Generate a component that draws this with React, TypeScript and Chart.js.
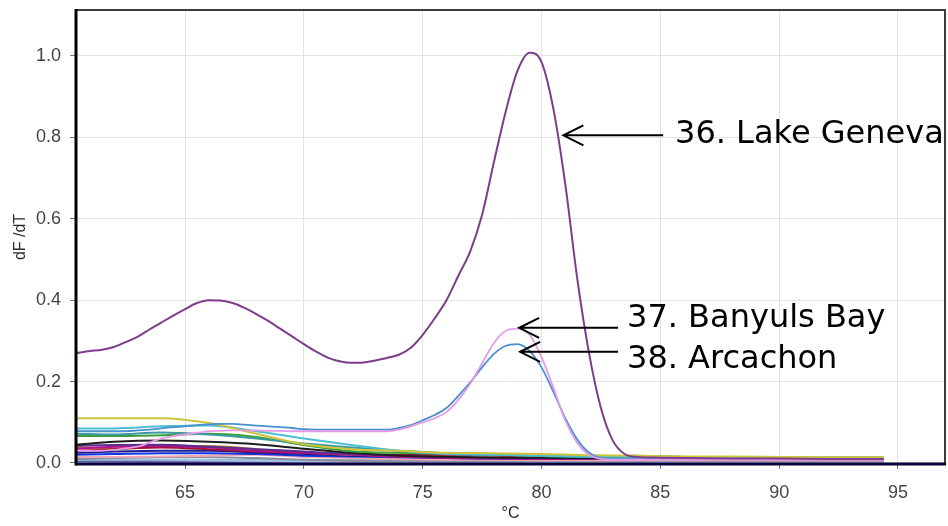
import React, { useEffect, useRef } from "react";
import { Chart, registerables } from "chart.js";

Chart.register(...registerables);

// ---------- data ----------
const temps = [60.4, 61, 61.5, 62, 62.5, 63, 63.5, 64, 64.5, 65, 65.5, 66, 66.5, 67, 67.5, 68, 68.5, 69, 69.5, 70, 70.5, 71, 71.5, 72, 72.5, 73, 73.5, 74, 74.5, 75, 75.5, 76, 76.5, 77, 77.5, 78, 78.5, 79, 79.5, 80, 80.5, 81, 81.5, 82, 82.5, 83, 83.5, 84, 85, 86, 88, 90, 92, 94.4];

const lakeGeneva = [0.270, 0.275, 0.278, 0.285, 0.297, 0.310, 0.328, 0.345, 0.362, 0.378, 0.393, 0.400, 0.399, 0.393, 0.381, 0.366, 0.349, 0.330, 0.311, 0.292, 0.274, 0.259, 0.250, 0.246, 0.247, 0.252, 0.258, 0.266, 0.283, 0.315, 0.355, 0.400, 0.460, 0.520, 0.610, 0.740, 0.865, 0.965, 1.008, 0.985, 0.870, 0.685, 0.455, 0.270, 0.135, 0.055, 0.022, 0.015, 0.013, 0.012, 0.011, 0.011, 0.010, 0.010];

const banyulsBay = [0.030, 0.030, 0.030, 0.032, 0.036, 0.040, 0.050, 0.060, 0.066, 0.070, 0.074, 0.078, 0.079, 0.080, 0.080, 0.080, 0.079, 0.079, 0.078, 0.078, 0.078, 0.078, 0.078, 0.078, 0.078, 0.078, 0.078, 0.082, 0.090, 0.100, 0.110, 0.125, 0.155, 0.195, 0.245, 0.295, 0.325, 0.330, 0.315, 0.260, 0.185, 0.105, 0.050, 0.020, 0.010, 0.008, 0.008, 0.008, 0.008, 0.008, 0.008, 0.008, 0.008, 0.008];

const arcachon = [0.078, 0.078, 0.078, 0.078, 0.078, 0.080, 0.082, 0.085, 0.088, 0.090, 0.093, 0.095, 0.096, 0.096, 0.094, 0.092, 0.090, 0.088, 0.086, 0.083, 0.082, 0.082, 0.082, 0.082, 0.082, 0.082, 0.082, 0.086, 0.093, 0.105, 0.118, 0.135, 0.165, 0.198, 0.235, 0.268, 0.288, 0.292, 0.275, 0.235, 0.175, 0.110, 0.058, 0.025, 0.012, 0.010, 0.010, 0.010, 0.010, 0.010, 0.010, 0.010, 0.010, 0.010];

const bgTemps = [60.4, 62, 64, 66, 68, 70, 72, 74, 76, 78, 80, 82, 84, 86, 88, 90, 92, 94.4];
const bgYellow = [0.110, 0.110, 0.110, 0.098, 0.072, 0.046, 0.034, 0.030, 0.025, 0.024, 0.022, 0.019, 0.018, 0.016, 0.016, 0.015, 0.014, 0.014];
const bgCyan = [0.085, 0.085, 0.090, 0.092, 0.078, 0.060, 0.044, 0.030, 0.022, 0.020, 0.018, 0.016, 0.016, 0.015, 0.014, 0.014, 0.014, 0.014];
const bgTeal = [0.072, 0.070, 0.075, 0.070, 0.060, 0.048, 0.038, 0.030, 0.024, 0.020, 0.017, 0.015, 0.015, 0.014, 0.013, 0.013, 0.013, 0.013];
const bgGreen = [0.066, 0.066, 0.068, 0.072, 0.064, 0.044, 0.029, 0.025, 0.023, 0.021, 0.017, 0.016, 0.018, 0.015, 0.014, 0.013, 0.013, 0.013];
const bgBlack = [0.045, 0.052, 0.055, 0.052, 0.046, 0.035, 0.025, 0.018, 0.015, 0.013, 0.013, 0.012, 0.012, 0.011, 0.011, 0.011, 0.011, 0.011];
const bgPurple = [0.042, 0.044, 0.045, 0.040, 0.034, 0.028, 0.022, 0.018, 0.015, 0.013, 0.012, 0.011, 0.010, 0.010, 0.010, 0.010, 0.010, 0.010];
const bgMagenta = [0.035, 0.040, 0.042, 0.038, 0.030, 0.025, 0.020, 0.015, 0.012, 0.011, 0.010, 0.010, 0.010, 0.009, 0.009, 0.009, 0.009, 0.009];
const bgDarkRed = [0.030, 0.034, 0.038, 0.034, 0.028, 0.025, 0.022, 0.020, 0.020, 0.019, 0.016, 0.014, 0.013, 0.012, 0.012, 0.012, 0.012, 0.012];
const bgOrange = [0.038, 0.036, 0.040, 0.042, 0.034, 0.026, 0.020, 0.018, 0.020, 0.018, 0.015, 0.013, 0.012, 0.011, 0.011, 0.011, 0.011, 0.011];
const bgNavy = [0.025, 0.028, 0.030, 0.030, 0.026, 0.022, 0.018, 0.016, 0.014, 0.012, 0.012, 0.011, 0.011, 0.010, 0.010, 0.010, 0.010, 0.010];
const bgBlue = [0.020, 0.022, 0.024, 0.024, 0.022, 0.018, 0.016, 0.014, 0.012, 0.011, 0.010, 0.010, 0.012, 0.012, 0.012, 0.011, 0.011, 0.011];
const bgLightPink = [0.015, 0.015, 0.016, 0.018, 0.020, 0.015, 0.012, 0.010, 0.008, 0.008, 0.007, 0.007, 0.007, 0.007, 0.007, 0.007, 0.007, 0.007];
const bgGray = [0.010, 0.012, 0.014, 0.014, 0.012, 0.008, 0.005, 0.004, 0.004, 0.004, 0.004, 0.004, 0.004, 0.004, 0.004, 0.004, 0.004, 0.004];
const bgLightBlue = [0.008, 0.008, 0.008, 0.007, 0.006, 0.005, 0.004, 0.004, 0.004, 0.004, 0.003, 0.003, 0.003, 0.003, 0.003, 0.003, 0.003, 0.003];
const bgDarkTeal = [0.006, 0.006, 0.006, 0.006, 0.006, 0.006, 0.006, 0.006, 0.006, 0.006, 0.006, 0.006, 0.008, 0.008, 0.008, 0.008, 0.008, 0.008];
const bgViolet = [0.004, 0.003, 0.002, 0.001, 0.000, -0.001, -0.001, -0.001, -0.001, -0.001, -0.002, -0.002, 0.000, -0.002, -0.002, -0.002, -0.002, -0.002];

const xTickValues = [65, 70, 75, 80, 85, 90, 95];
const yTickValues = [0, 0.2, 0.4, 0.6, 0.8, 1.0];

const annLabels = ["36. Lake Geneva", "37. Banyuls Bay", "38. Arcachon"];
// arrow tip / tail and label anchor, in data units (°C, dF/dT)
const annTipX = [80.92, 79.06, 79.1];
const annTipY = [0.805, 0.332, 0.273];
const annTailX = [85.12, 83.22, 83.22];
const annTextX = [85.62, 83.6, 83.6];
const annTextY = [0.786, 0.334, 0.233];

// ---------- helpers ----------
const pts = (xs: number[], ys: number[]) => xs.map((x, i) => ({ x, y: ys[i] }));

const bgSeries: { data: number[]; color: string }[] = [
  { data: bgYellow, color: "#cdc43c" },
  { data: bgCyan, color: "#4cbfd3" },
  { data: bgTeal, color: "#3a9aa0" },
  { data: bgGreen, color: "#3a9e3a" },
  { data: bgBlack, color: "#1e1e1e" },
  { data: bgPurple, color: "#5b2d8e" },
  { data: bgMagenta, color: "#b4108c" },
  { data: bgDarkRed, color: "#a0102e" },
  { data: bgOrange, color: "#c8783c" },
  { data: bgNavy, color: "#1c1c8c" },
  { data: bgBlue, color: "#1034e0" },
  { data: bgLightPink, color: "#f0a8b4" },
  { data: bgGray, color: "#8c8ca0" },
  { data: bgLightBlue, color: "#9cc4e4" },
  { data: bgDarkTeal, color: "#2e6a6a" },
  { data: bgViolet, color: "#9050e0" },
];

const framePlugin = {
  id: "frame",
  afterDatasetsDraw(chart: any) {
    const { ctx, chartArea: a } = chart;
    ctx.save();
    ctx.lineCap = "butt";
    ctx.strokeStyle = "#3c3c3c";
    ctx.lineWidth = 2;
    ctx.beginPath();
    ctx.moveTo(a.left, a.top);
    ctx.lineTo(a.right, a.top);
    ctx.lineTo(a.right, a.bottom);
    ctx.stroke();
    ctx.strokeStyle = "#06063a";
    ctx.lineWidth = 3;
    ctx.beginPath();
    ctx.moveTo(a.left, a.bottom);
    ctx.lineTo(a.right + 1, a.bottom);
    ctx.stroke();
    ctx.strokeStyle = "#000000";
    ctx.lineWidth = 3;
    ctx.beginPath();
    ctx.moveTo(a.left, a.top - 1);
    ctx.lineTo(a.left, a.bottom + 1.5);
    ctx.stroke();
    ctx.restore();
  },
};

const annotationPlugin = {
  id: "arrows",
  afterDraw(chart: any) {
    const { ctx } = chart;
    const xs = chart.scales.x;
    const ys = chart.scales.y;
    ctx.save();
    ctx.strokeStyle = "#000";
    ctx.fillStyle = "#000";
    ctx.lineWidth = 2;
    ctx.font = '32px "DejaVu Sans", Verdana, sans-serif';
    ctx.textBaseline = "alphabetic";
    ctx.textAlign = "left";
    annLabels.forEach((label, i) => {
      const tx = xs.getPixelForValue(annTipX[i]);
      const ty = ys.getPixelForValue(annTipY[i]);
      const ex = xs.getPixelForValue(annTailX[i]);
      ctx.beginPath();
      ctx.moveTo(ex, ty);
      ctx.lineTo(tx, ty);
      ctx.moveTo(tx + 20, ty - 10);
      ctx.lineTo(tx, ty);
      ctx.lineTo(tx + 20, ty + 10);
      ctx.stroke();
      ctx.fillText(label, xs.getPixelForValue(annTextX[i]), ys.getPixelForValue(annTextY[i]));
    });
    ctx.restore();
  },
};

export default function App() {
  const canvasRef = useRef<HTMLCanvasElement | null>(null);

  useEffect(() => {
    if (!canvasRef.current) return;
    const datasets: any[] = [
      { label: "36. Lake Geneva", data: pts(temps, lakeGeneva), borderColor: "#7d3c8c", borderWidth: 2 },
      { label: "37. Banyuls Bay", data: pts(temps, banyulsBay), borderColor: "#e49be6", borderWidth: 1.8 },
      { label: "38. Arcachon", data: pts(temps, arcachon), borderColor: "#4a8fcf", borderWidth: 1.8 },
      ...bgSeries.map((s, i) => ({
        label: "bg" + i,
        data: pts(bgTemps, s.data),
        borderColor: s.color,
        borderWidth: 2,
      })),
    ].map((d) => ({
      ...d,
      pointRadius: 0,
      fill: false,
      cubicInterpolationMode: "monotone",
    }));

    const tickFont = { family: '"Liberation Sans", Arial, sans-serif', size: 18 };

    const chart = new Chart(canvasRef.current, {
      type: "line",
      data: { datasets },
      plugins: [framePlugin, annotationPlugin],
      options: {
        animation: false,
        responsive: false,
        devicePixelRatio: 1,
        layout: { padding: { top: 10, right: 3, left: 0, bottom: 0 } },
        plugins: { legend: { display: false }, tooltip: { enabled: false } },
        scales: {
          x: {
            type: "linear",
            min: 60.41,
            max: 96.98,
            afterBuildTicks: (s: any) => {
              s.ticks = xTickValues.map((v) => ({ value: v }));
            },
            afterFit: (s: any) => {
              s.height = 62;
              s.paddingLeft = 0;
              s.paddingRight = 0;
            },
            grid: { color: "#e3e3e3", lineWidth: 1, tickLength: 5, tickColor: "#777" },
            border: { display: false },
            ticks: {
              color: "#454545",
              font: tickFont,
              padding: 13,
              maxRotation: 0,
              callback: (v: any) => String(v),
            },
            title: {
              display: true,
              text: "°C",
              color: "#2a2a2a",
              font: { family: '"Liberation Sans", Arial, sans-serif', size: 16 },
              padding: { top: 0, bottom: 3 },
            },
          },
          y: {
            type: "linear",
            min: -0.0025,
            max: 1.113,
            afterBuildTicks: (s: any) => {
              s.ticks = yTickValues.map((v) => ({ value: v }));
            },
            afterFit: (s: any) => {
              s.width = 76;
              s.paddingTop = 0;
              s.paddingBottom = 0;
            },
            grid: { color: "#e3e3e3", lineWidth: 1, tickLength: 6, tickColor: "#777" },
            border: { display: false },
            ticks: {
              color: "#454545",
              font: tickFont,
              padding: 9,
              callback: (v: any) => Number(v).toFixed(1),
            },
            title: {
              display: true,
              text: "dF /dT",
              color: "#2a2a2a",
              font: { family: '"Liberation Sans", Arial, sans-serif', size: 16 },
              padding: { top: 11, bottom: 0 },
            },
          },
        },
      } as any,
    });
    return () => chart.destroy();
  }, []);

  return (
    <div style={{ position: "fixed", left: 0, top: 0, width: 948, height: 526, background: "#fff" }}>
      <canvas ref={canvasRef} width={948} height={526} style={{ display: "block" }} />
    </div>
  );
}
